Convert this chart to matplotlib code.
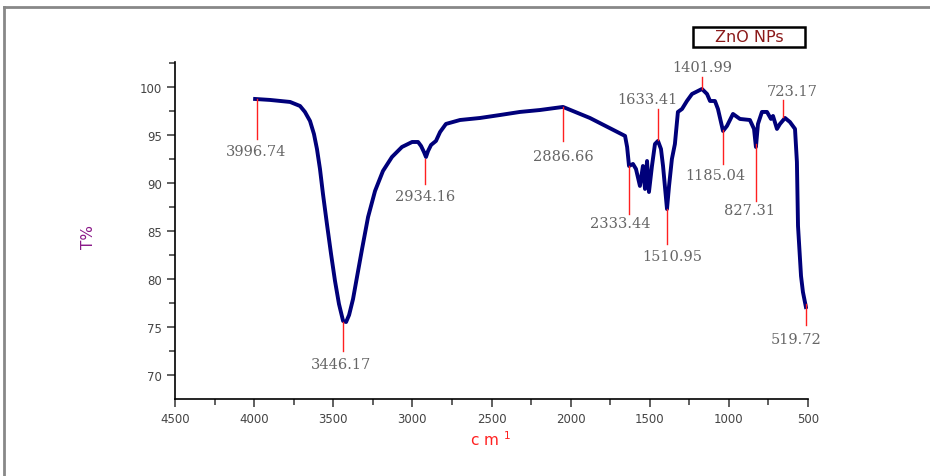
import numpy as np
import matplotlib
matplotlib.use("Agg")
import matplotlib.pyplot as plt

# FTIR spectrum of ZnO NPs
wn = [3994, 3900, 3773, 3710, 3679, 3647, 3622, 3603, 3584, 3565, 3540, 3514,
      3489, 3464, 3438, 3419, 3400, 3375, 3350, 3318, 3280, 3236, 3186, 3129,
      3066, 3002, 2964, 2945, 2927, 2914, 2901, 2882, 2851, 2825, 2788, 2699,
      2573, 2446, 2320, 2194, 2099, 2048, 1878, 1656, 1643, 1631, 1606, 1587,
      1562, 1543, 1530, 1517, 1505, 1486, 1467, 1448, 1429, 1416, 1391, 1378,
      1360, 1341, 1322, 1296, 1265, 1233, 1170, 1138, 1119, 1088, 1069, 1050,
      1037, 1012, 974, 930, 867, 841, 829, 816, 791, 759, 734, 721, 696, 677,
      645, 614, 582, 570, 563, 544, 532, 513]
trans = [98.75, 98.65, 98.44, 98.02, 97.40, 96.46, 95.10, 93.54, 91.46, 88.85,
         85.73, 82.60, 79.79, 77.40, 75.63, 75.52, 76.25, 77.92, 80.21, 83.13,
         86.46, 89.17, 91.25, 92.71, 93.75, 94.27, 94.27, 93.85, 93.23, 92.71,
         93.33, 93.96, 94.38, 95.31, 96.15, 96.56, 96.77, 97.08, 97.40, 97.60,
         97.81, 97.92, 96.77, 94.90, 93.75, 91.77, 91.98, 91.46, 89.69, 91.77,
         89.38, 92.29, 89.06, 91.77, 94.06, 94.38, 93.54, 91.77, 87.29, 89.69,
         92.50, 94.06, 97.40, 97.71, 98.54, 99.27, 99.79, 99.27, 98.54, 98.54,
         97.71, 96.35, 95.42, 95.94, 97.19, 96.67, 96.56, 95.63, 93.75, 96.15,
         97.40, 97.40, 96.67, 96.98, 95.63, 96.15, 96.77, 96.35, 95.63, 92.19,
         85.52, 80.31, 78.65, 77.08]

# peak labels: text, marker x, marker y-range, text position
peak_labels = ["3996.74", "3446.17", "2934.16", "2886.66", "2333.44", "1633.41",
               "1510.95", "1401.99", "1185.04", "827.31", "723.17", "519.72"]
mark_x = [3982, 3438, 2920, 2048, 1631, 1448, 1391, 1170, 1037, 829, 658, 513]
mark_y0 = [98.75, 75.52, 92.50, 97.92, 91.77, 97.71, 87.29, 101.04, 95.52, 94.06, 98.65, 77.40]
mark_y1 = [94.58, 72.50, 89.90, 94.38, 86.77, 94.48, 83.65, 99.79, 91.98, 88.13, 96.88, 75.20]
text_x = [3990, 3450, 2920, 2048, 1688, 1517, 1359, 1170, 1088, 867, 601, 576]
text_y = [93.33, 71.15, 88.65, 92.81, 85.83, 98.75, 82.40, 102.1, 90.83, 87.19, 99.58, 73.75]

fig = plt.figure(figsize=(9.3, 4.77), dpi=100)
ax = fig.add_axes([0.1882, 0.1614, 0.6806, 0.7065])

ax.plot(wn, trans, color="#00007a", lw=2.8, solid_joinstyle="round")
for x, a, b in zip(mark_x, mark_y0, mark_y1):
    ax.plot([x, x], [a, b], color="#ff2020", lw=1)
for t, x, y in zip(peak_labels, text_x, text_y):
    ax.text(x, y, t, ha="center", va="center", fontsize=10.5, color="#666666",
            family="DejaVu Serif", clip_on=False)

ax.set_xlim(4500, 500)
ax.set_ylim(67.5, 102.6)
ax.set_xticks(range(4500, 499, -500))
ax.set_xticks(range(4250, 500, -500), minor=True)
ax.set_yticks(range(70, 101, 5))
ax.set_yticks(np.arange(72.5, 102.6, 5), minor=True)
ax.spines["top"].set_visible(False)
ax.spines["right"].set_visible(False)
ax.tick_params(which="both", direction="out", colors="#444444", labelsize=8.5, width=1.2)
ax.tick_params(which="major", length=6)
ax.tick_params(which="minor", length=4)
ax.spines["left"].set_linewidth(1.2)
ax.spines["bottom"].set_linewidth(1.2)

fig.text(88 / 930, 1 - 237 / 477, "T%", rotation=90, color="#8b1a89",
         fontsize=11, ha="center", va="center")
fig.text(490 / 930, 1 - 440 / 477, "c m $^{1}$", color="#ff2020",
         fontsize=11, ha="center", va="center")

# legend-like title box
fig.add_artist(plt.Rectangle((693 / 930, 1 - 48 / 477), 112 / 930, 20 / 477,
                             transform=fig.transFigure, fc="white", ec="black", lw=1.8))
fig.text(749 / 930, 1 - 38 / 477, "ZnO NPs", color="#8b1a1a", fontsize=11.5,
         ha="center", va="center")

# outer frame (top and left edges)
fig.add_artist(plt.Line2D([4 / 930, 1], [1 - 8 / 477, 1 - 8 / 477], color="#888888", lw=2))
fig.add_artist(plt.Line2D([4 / 930, 4 / 930], [0, 1 - 8 / 477], color="#888888", lw=2))

fig.savefig("out.png", dpi=100)
